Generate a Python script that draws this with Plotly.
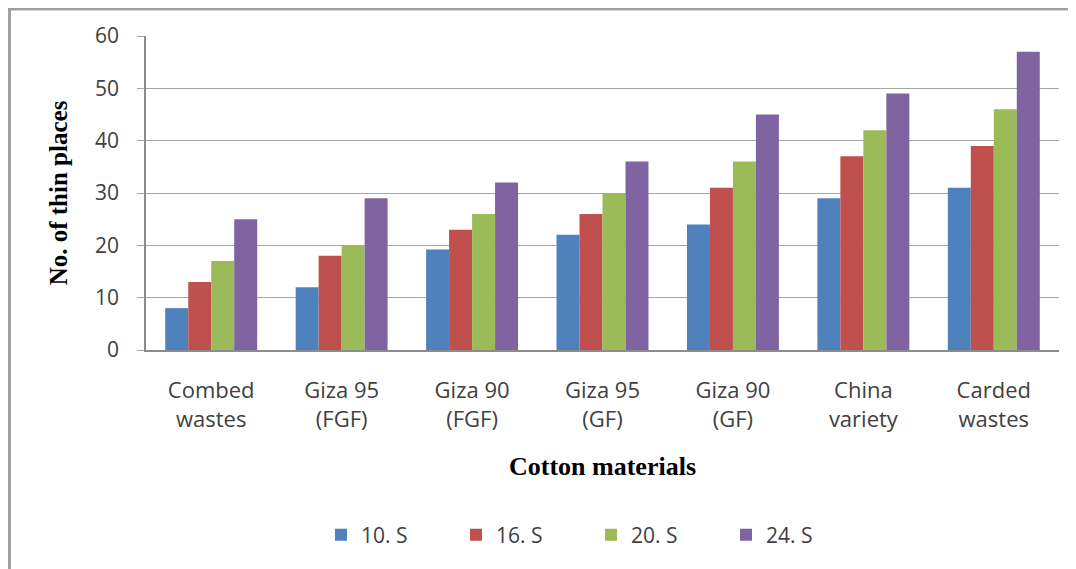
import plotly.graph_objects as go

categories = ["Combed<br>wastes", "Giza 95<br>(FGF)", "Giza 90<br>(FGF)", "Giza 95<br>(GF)",
              "Giza 90<br>(GF)", "China<br>variety", "Carded<br>wastes"]
series_names = ["10. S", "16. S", "20. S", "24. S"]
s10 = [8, 12, 19.2, 22, 24, 29, 31]
s16 = [13, 18, 23, 26, 31, 37, 39]
s20 = [17, 20, 26, 30, 36, 42, 46]
s24 = [25, 29, 32, 36, 45, 49, 57]
colors = ["#4F81BD", "#C0504D", "#9BBB59", "#8064A2"]
y_ticks = [0, 10, 20, 30, 40, 50, 60]

# page is offset by the 8px body margin; coordinates below are figure coordinates
OFF = 8
W, H = 1076 - OFF, 569 - OFF
L, R = 146 - OFF, 1076 - 1059
T, B = 36 - OFF, 569 - 350
pw, ph = W - L - R, H - T - B

fig = go.Figure()
for name, vals, c in zip(series_names, [s10, s16, s20, s24], colors):
    fig.add_trace(go.Bar(x=categories, y=vals, name=name, marker=dict(color=c, line=dict(width=0))))

def px_x(p):
    return (p - OFF - L) / pw

def px_y(p):
    return (H - B - (p - OFF)) / ph

fig.update_layout(
    width=W, height=H,
    margin=dict(l=L, r=R, t=T, b=B),
    paper_bgcolor="white", plot_bgcolor="white",
    barmode="group", bargap=0.295, bargroupgap=0,
    font=dict(family="Open Sans", color="#404040", size=20),
    showlegend=True,
    legend=dict(orientation="h", x=px_x(321), xanchor="left", y=px_y(535), yanchor="middle",
                font=dict(family="Open Sans", size=21, color="#404040"),
                entrywidth=90, traceorder="normal"),
    xaxis=dict(showgrid=False, showline=True, linecolor="#8c8c8c", linewidth=1.5,
               ticks="", ticklabelstandoff=20,
               tickfont=dict(family="Open Sans", size=22, color="#404040"),
               title=dict(text="<b>Cotton materials</b>", standoff=25,
                          font=dict(family="Liberation Serif", size=26, color="black"))),
    yaxis=dict(range=[0, 60], tickvals=y_ticks, showgrid=True, gridcolor="#a6a6a6", gridwidth=1,
               showline=True, linecolor="#8c8c8c", linewidth=1.5, zeroline=False,
               ticks="outside", ticklen=7, tickcolor="#a6a6a6",
               ticklabelstandoff=14,
               tickfont=dict(family="Open Sans", size=21, color="#404040"),
               title=dict(text="<b>No. of thin places</b>", standoff=20,
                          font=dict(family="Liberation Serif", size=25, color="black"))),
    shapes=[
        dict(type="line", xref="paper", yref="paper", x0=px_x(9.5), x1=px_x(9.5), y0=px_y(8), y1=px_y(580),
             line=dict(color="#a0a0a0", width=3)),
        dict(type="line", xref="paper", yref="paper", x0=px_x(8), x1=px_x(1076), y0=px_y(9), y1=px_y(9),
             line=dict(color="#a0a0a0", width=3)),
    ],
)

fig.write_html("out.html")
